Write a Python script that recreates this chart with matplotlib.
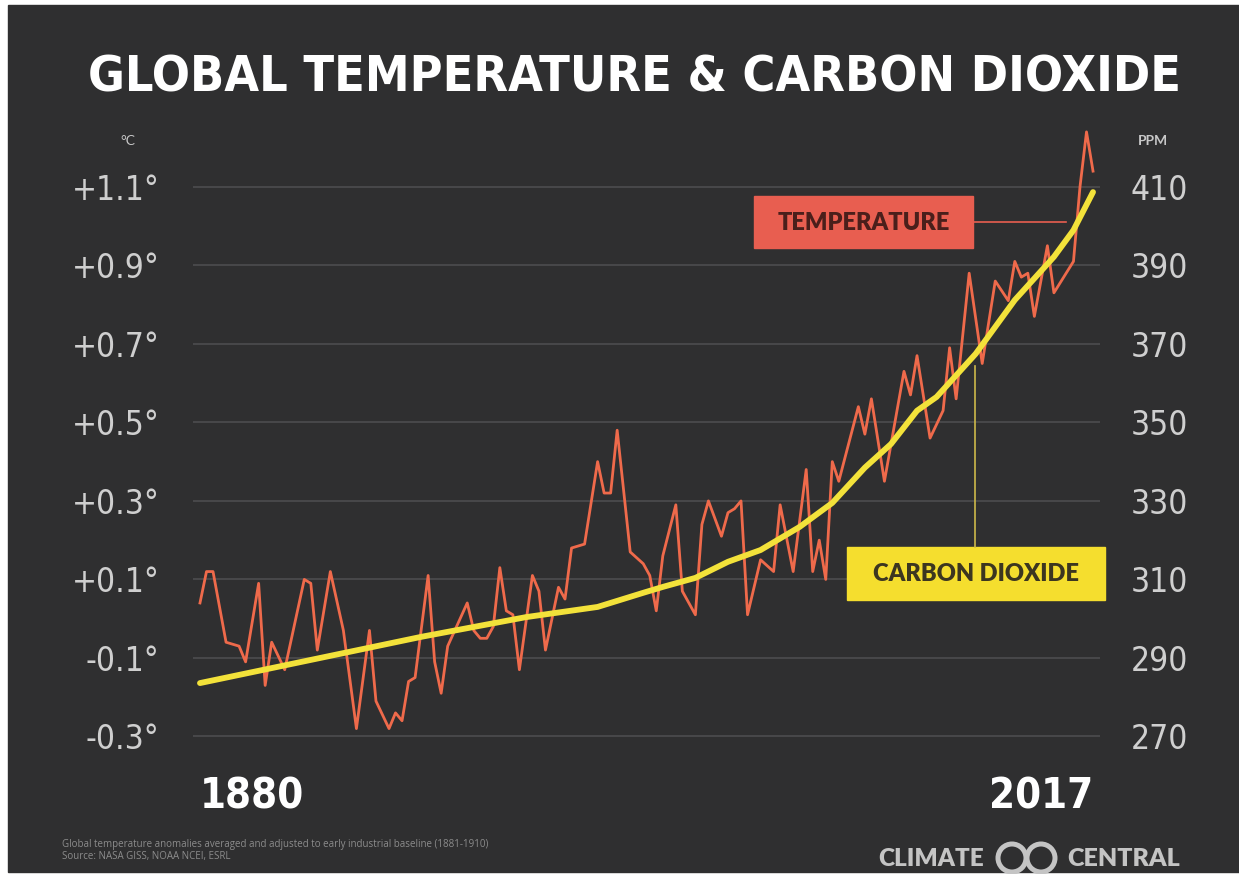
import os
import matplotlib
matplotlib.use('Agg')
import matplotlib.pyplot as plt
from matplotlib import font_manager as fm
from matplotlib.patches import Rectangle, Circle

# Data
temp_years = [1880, 1881, 1882, 1884, 1886, 1887, 1889, 1890, 1891, 1893,
              1896, 1897, 1898, 1900, 1902, 1904, 1906, 1907, 1909, 1910,
              1911, 1912, 1913, 1915, 1916, 1917, 1918, 1921, 1922, 1923,
              1924, 1925, 1926, 1927, 1928, 1929, 1931, 1932, 1933, 1935,
              1936, 1937, 1939, 1941, 1942, 1943, 1944, 1946, 1948, 1949,
              1950, 1951, 1953, 1954, 1956, 1957, 1958, 1960, 1961, 1962,
              1963, 1964, 1966, 1968, 1969, 1971, 1973, 1974, 1975, 1976,
              1977, 1978, 1981, 1982, 1983, 1985, 1988, 1989, 1990, 1992,
              1994, 1995, 1996, 1998, 2000, 2002, 2004, 2005, 2006, 2007,
              2008, 2010, 2011, 2014, 2015, 2016, 2017]
temp_anom = [0.04, 0.12, 0.12, -0.06, -0.07, -0.11, 0.09, -0.17, -0.06, -0.13,
             0.10, 0.09, -0.08, 0.12, -0.03, -0.28, -0.03, -0.21, -0.28, -0.24,
             -0.26, -0.16, -0.15, 0.11, -0.11, -0.19, -0.07, 0.04, -0.03, -0.05,
             -0.05, -0.02, 0.13, 0.02, 0.01, -0.13, 0.11, 0.07, -0.08, 0.08,
             0.05, 0.18, 0.19, 0.40, 0.32, 0.32, 0.48, 0.17, 0.14, 0.11,
             0.02, 0.16, 0.29, 0.07, 0.01, 0.24, 0.30, 0.21, 0.27, 0.28,
             0.30, 0.01, 0.15, 0.12, 0.29, 0.12, 0.38, 0.12, 0.20, 0.10,
             0.40, 0.35, 0.54, 0.47, 0.56, 0.35, 0.63, 0.57, 0.67, 0.46,
             0.53, 0.69, 0.56, 0.88, 0.65, 0.86, 0.81, 0.91, 0.87, 0.88,
             0.77, 0.95, 0.83, 0.91, 1.10, 1.24, 1.14]

co2_years = [1880, 1914, 1930, 1941, 1948, 1951, 1956, 1961, 1966, 1972,
             1977, 1982, 1986, 1990, 1993, 1999, 2005, 2011, 2014, 2017]
co2_ppm = [283.6, 295.4, 300.4, 303.0, 306.6, 308.1, 310.4, 314.5, 317.5, 323.4,
           329.5, 338.5, 344.5, 353.0, 356.5, 367.5, 381.2, 392.2, 399.0, 408.7]

temp_ticks = [-0.3, -0.1, 0.1, 0.3, 0.5, 0.7, 0.9, 1.1]
temp_labels = ['-0.3°', '-0.1°', '+0.1°', '+0.3°', '+0.5°', '+0.7°', '+0.9°', '+1.1°']
ppm_ticks = [270, 290, 310, 330, 350, 370, 390, 410]
year_ticks = [1880, 2017]

BG = '#2f2f30'
GRID = '#48484a'
LABEL = '#cfcfcf'
TEMP = '#ef6a4b'
CO2 = '#f3e23a'
TEMP_BOX = '#e85e50'
CO2_BOX = '#f5de2e'
LOGO = '#c4c4c4'

# look for a condensed face on the system
FONT_FILES = {}
for f in fm.findSystemFonts():
    FONT_FILES.setdefault(os.path.basename(f).lower(), f)


def cond_font(names, size, fuzzy, weight):
    for n in names:
        if n in FONT_FILES:
            return fm.FontProperties(fname=FONT_FILES[n], size=size)
    for k in sorted(FONT_FILES):
        if all(s in k for s in fuzzy[0]) and not any(s in k for s in fuzzy[1]):
            return fm.FontProperties(fname=FONT_FILES[k], size=size)
    return fm.FontProperties(family='DejaVu Sans', weight=weight, size=size * 0.85)


BOLD_C = ['notosans-extracondensedbold.ttf', 'notosans-condensedbold.ttf',
          'dejavusanscondensed-bold.ttf', 'liberationsansnarrow-bold.ttf',
          'robotocondensed-bold.ttf']
MED_C = ['notosans-extracondensedmedium.ttf', 'notosans-extracondensed.ttf',
         'notosans-condensedmedium.ttf', 'notosans-condensed.ttf',
         'dejavusanscondensed.ttf', 'liberationsansnarrow-regular.ttf',
         'robotocondensed-regular.ttf']
BOLD_FUZZY = (['condensed', 'bold'], ['italic', 'semi', 'extrabold', 'mono', 'serif'])
MED_FUZZY = (['condensed'], ['italic', 'bold', 'light', 'thin', 'black', 'mono', 'serif'])

W, H = 1239, 874
fig = plt.figure(figsize=(W / 100, H / 100), dpi=100, facecolor='white')
renderer = fig.canvas.get_renderer()

# background layer in pixel coordinates
bg = fig.add_axes([0, 0, 1, 1])
bg.set_xlim(0, W)
bg.set_ylim(H, 0)
bg.axis('off')
bg.add_patch(Rectangle((8, 5), W - 8, H - 7, color=BG))

title = bg.text(634, 78, 'GLOBAL TEMPERATURE & CARBON DIOXIDE', ha='center', va='center',
                color='white', fontproperties=cond_font(BOLD_C, 60, BOLD_FUZZY, 'bold'))
tw = title.get_window_extent(renderer).width
title.set_fontsize(title.get_fontsize() * 1092 / tw)

bg.text(128, 141, '°C', ha='center', va='center', fontsize=10, color='#c8c8c8',
        family=['Lato', 'DejaVu Sans'])
bg.text(1153, 141, 'PPM', ha='center', va='center', fontsize=10, fontweight='bold',
        color='#c8c8c8', family=['Lato', 'DejaVu Sans'])

# footer
bg.text(62, 844, 'Global temperature anomalies averaged and adjusted to early industrial baseline (1881-1910)',
        va='center', fontsize=7.0, color='#8c8c8c', family=['Open Sans', 'DejaVu Sans'])
bg.text(62, 857, 'Source: NASA GISS, NOAA NCEI, ESRL', va='center', fontsize=7.0,
        color='#8c8c8c', family=['Open Sans', 'DejaVu Sans'])

bg.text(984, 859, 'CLIMATE', ha='right', va='center', fontsize=17.5, fontweight='heavy',
        color=LOGO, family=['Lato', 'DejaVu Sans'])
bg.add_patch(Circle((1012, 858), 14, fill=False, lw=3.6, ec=LOGO))
bg.add_patch(Circle((1041, 858), 14, fill=False, lw=3.6, ec=LOGO))
bg.text(1067, 859, 'CENTRAL', ha='left', va='center', fontsize=18, fontweight='heavy',
        color=LOGO, family=['Lato', 'DejaVu Sans'])

# chart
ax = fig.add_axes([193 / W, 1 - 760 / H, (1100 - 193) / W, (760 - 115) / H])
ax2 = ax.twinx()
ax.set_zorder(1)
ax2.set_zorder(2)
for a in (ax, ax2):
    a.patch.set_visible(False)
    for s in a.spines.values():
        s.set_visible(False)

ax.set_xlim(1878.93, 2018.07)
ax.set_ylim(-0.360, 1.283)
ax2.set_ylim(264.0, 428.34)

ax.grid(axis='y', color=GRID, lw=1.4)
ax.set_axisbelow(True)

ax.plot(temp_years, temp_anom, color=TEMP, lw=2.0, solid_joinstyle='round')
ax2.plot(co2_years, co2_ppm, color=CO2, lw=4.2, solid_capstyle='round',
         solid_joinstyle='round')

tick_fp = cond_font(MED_C, 24, MED_FUZZY, 'normal')
ax.set_yticks(temp_ticks, temp_labels)
ax.tick_params(axis='y', length=0, pad=24, labelcolor=LABEL)
ax2.set_yticks(ppm_ticks, [str(v) for v in ppm_ticks])
ax2.tick_params(axis='y', length=0, pad=22, labelcolor=LABEL)
for lbl in ax.get_yticklabels() + ax2.get_yticklabels():
    lbl.set_fontproperties(tick_fp)

year_fp = cond_font(BOLD_C, 30, BOLD_FUZZY, 'bold')
ax.set_xticks(year_ticks, [str(v) for v in year_ticks])
ax.tick_params(axis='x', length=0, pad=11, labelcolor='white')
xl = ax.get_xticklabels()
for lbl in xl:
    lbl.set_fontproperties(year_fp)
xl[0].set_ha('left')
xl[1].set_ha('right')

# label boxes on top of the chart
fg = fig.add_axes([0, 0, 1, 1])
fg.set_xlim(0, W)
fg.set_ylim(H, 0)
fg.axis('off')
fg.set_zorder(3)
fg.patch.set_visible(False)

fg.add_patch(Rectangle((754, 196), 219, 52, color=TEMP_BOX))
fg.text(863.5, 223, 'TEMPERATURE', ha='center', va='center', fontsize=17,
        fontweight='heavy', color='#4a1f1b', family=['Lato', 'DejaVu Sans'])
fg.plot([973, 1066], [222, 222], color=TEMP_BOX, lw=1.2)

fg.add_patch(Rectangle((847, 547), 258, 53, color=CO2_BOX))
fg.text(976, 574, 'CARBON DIOXIDE', ha='center', va='center', fontsize=17,
        fontweight='heavy', color='#3c3620', family=['Lato', 'DejaVu Sans'])
fg.plot([975, 975], [366, 547], color='#cdb94a', lw=1.2)

fig.savefig('out.png', dpi=100, facecolor='white')
